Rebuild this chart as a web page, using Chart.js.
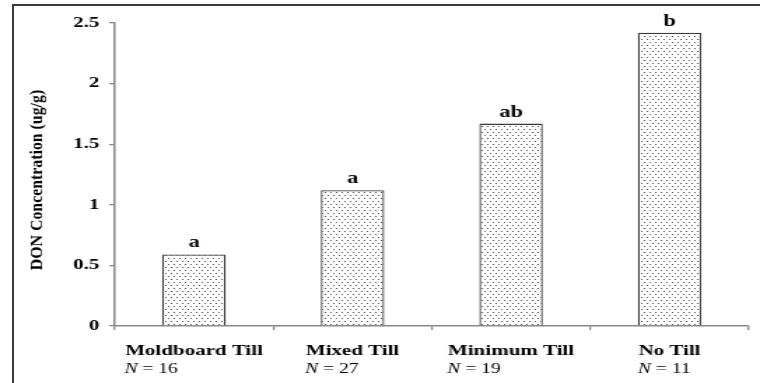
<!DOCTYPE html>
<html>
<head>
<meta charset="utf-8">
<script src="https://cdn.jsdelivr.net/npm/chart.js@4/dist/chart.umd.min.js"></script>
<style>
  body { margin: 0; background: #fff; overflow: hidden; }
  #frame { position: absolute; left: 12px; top: 4px; width: 800px; height: 420px;
           border-left: 2px solid #3c3c3c; border-top: 2px solid #3c3c3c; }
  #myChart { position: absolute; left: 0; top: 0; }
</style>
</head>
<body>
<div id="frame"></div>
<!-- the figure is stretched sideways, so the canvas is drawn narrow and widened by its style -->
<canvas id="myChart" width="543" height="383" style="width:760px;height:383px"></canvas>
<script>
var categories = ["Moldboard Till", "Mixed Till", "Minimum Till", "No Till"];
var sampleSizes = [16, 27, 19, 11];
var donValues = [0.59, 1.12, 1.67, 2.42];
var groupLetters = ["a", "a", "ab", "b"];
var yTicks = [0, 0.5, 1, 1.5, 2, 2.5];

var serif = '"Liberation Serif", "Times New Roman", serif';

// dotted fill for the bars
function dotPattern() {
  var c = document.createElement("canvas");
  c.width = 4; c.height = 6;
  var p = c.getContext("2d");
  p.fillStyle = "#fff";
  p.fillRect(0, 0, 4, 6);
  p.fillStyle = "#555";
  p.fillRect(0, 0, 1, 1);
  p.fillRect(2, 3, 1, 1);
  return p.createPattern(c, "repeat");
}

var labelPlugin = {
  id: "labelPlugin",
  afterDraw: function (chart) {
    var ctx = chart.ctx;
    var xs = chart.scales.x;
    var meta = chart.getDatasetMeta(0);
    ctx.save();
    ctx.fillStyle = "#000";

    // letters over the bars
    ctx.font = "bold 16px " + serif;
    ctx.textAlign = "center";
    ctx.textBaseline = "alphabetic";
    meta.data.forEach(function (bar, i) {
      ctx.fillText(groupLetters[i], bar.x, bar.y - 7);
    });

    // category names with N under them, left aligned
    categories.forEach(function (name, i) {
      var cx = xs.getPixelForValue(i);
      ctx.font = "bold 15px " + serif;
      var w = ctx.measureText(name).width;
      var left = cx - w / 2;
      ctx.textAlign = "left";
      ctx.fillText(name, left, 355);
      ctx.font = "italic 14px " + serif;
      ctx.fillText("N", left - 0.5, 373);
      var nw = ctx.measureText("N").width;
      ctx.font = "14px " + serif;
      ctx.fillText(" = " + sampleSizes[i], left - 0.5 + nw, 373);
    });

    // y axis title
    ctx.translate(27, 180);
    ctx.rotate(-Math.PI / 2);
    ctx.scale(1.32, 1);
    ctx.font = "bold 12px " + serif;
    ctx.textAlign = "center";
    ctx.textBaseline = "middle";
    ctx.fillText("DON Concentration (ug/g)", 0, 0);
    ctx.restore();
  }
};

var ctx = document.getElementById("myChart").getContext("2d");
var chart = new Chart(ctx, {
  type: "bar",
  data: {
    labels: categories,
    datasets: [{
      data: donValues,
      backgroundColor: dotPattern(),
      borderColor: "#3a3a3a",
      borderWidth: 1.3,
      barPercentage: 0.4,
      categoryPercentage: 1
    }]
  },
  options: {
    responsive: false,
    animation: false,
    devicePixelRatio: 1,
    layout: { padding: { top: 23, right: 8, left: 0, bottom: 0 } },
    plugins: { legend: { display: false }, tooltip: { enabled: false } },
    scales: {
      x: {
        offset: true,
        afterFit: function (s) { s.height = 57; },
        ticks: { display: false },
        grid: { drawOnChartArea: false, offset: true, tickLength: 4, color: "#888", lineWidth: 1.3 },
        border: { color: "#888", width: 1.5 }
      },
      y: {
        min: 0,
        max: 2.5,
        afterFit: function (s) { s.width = 82; },
        afterBuildTicks: function (s) { s.ticks = yTicks.map(function (v) { return { value: v }; }); },
        ticks: {
          color: "#000",
          padding: 7,
          font: { family: serif, size: 15, weight: "bold" },
          callback: function (v) { return String(v); }
        },
        grid: { drawOnChartArea: false, tickLength: 4, color: "#888", lineWidth: 1.3 },
        border: { color: "#888", width: 1.5 }
      }
    }
  },
  plugins: [labelPlugin]
});
</script>
</body>
</html>
